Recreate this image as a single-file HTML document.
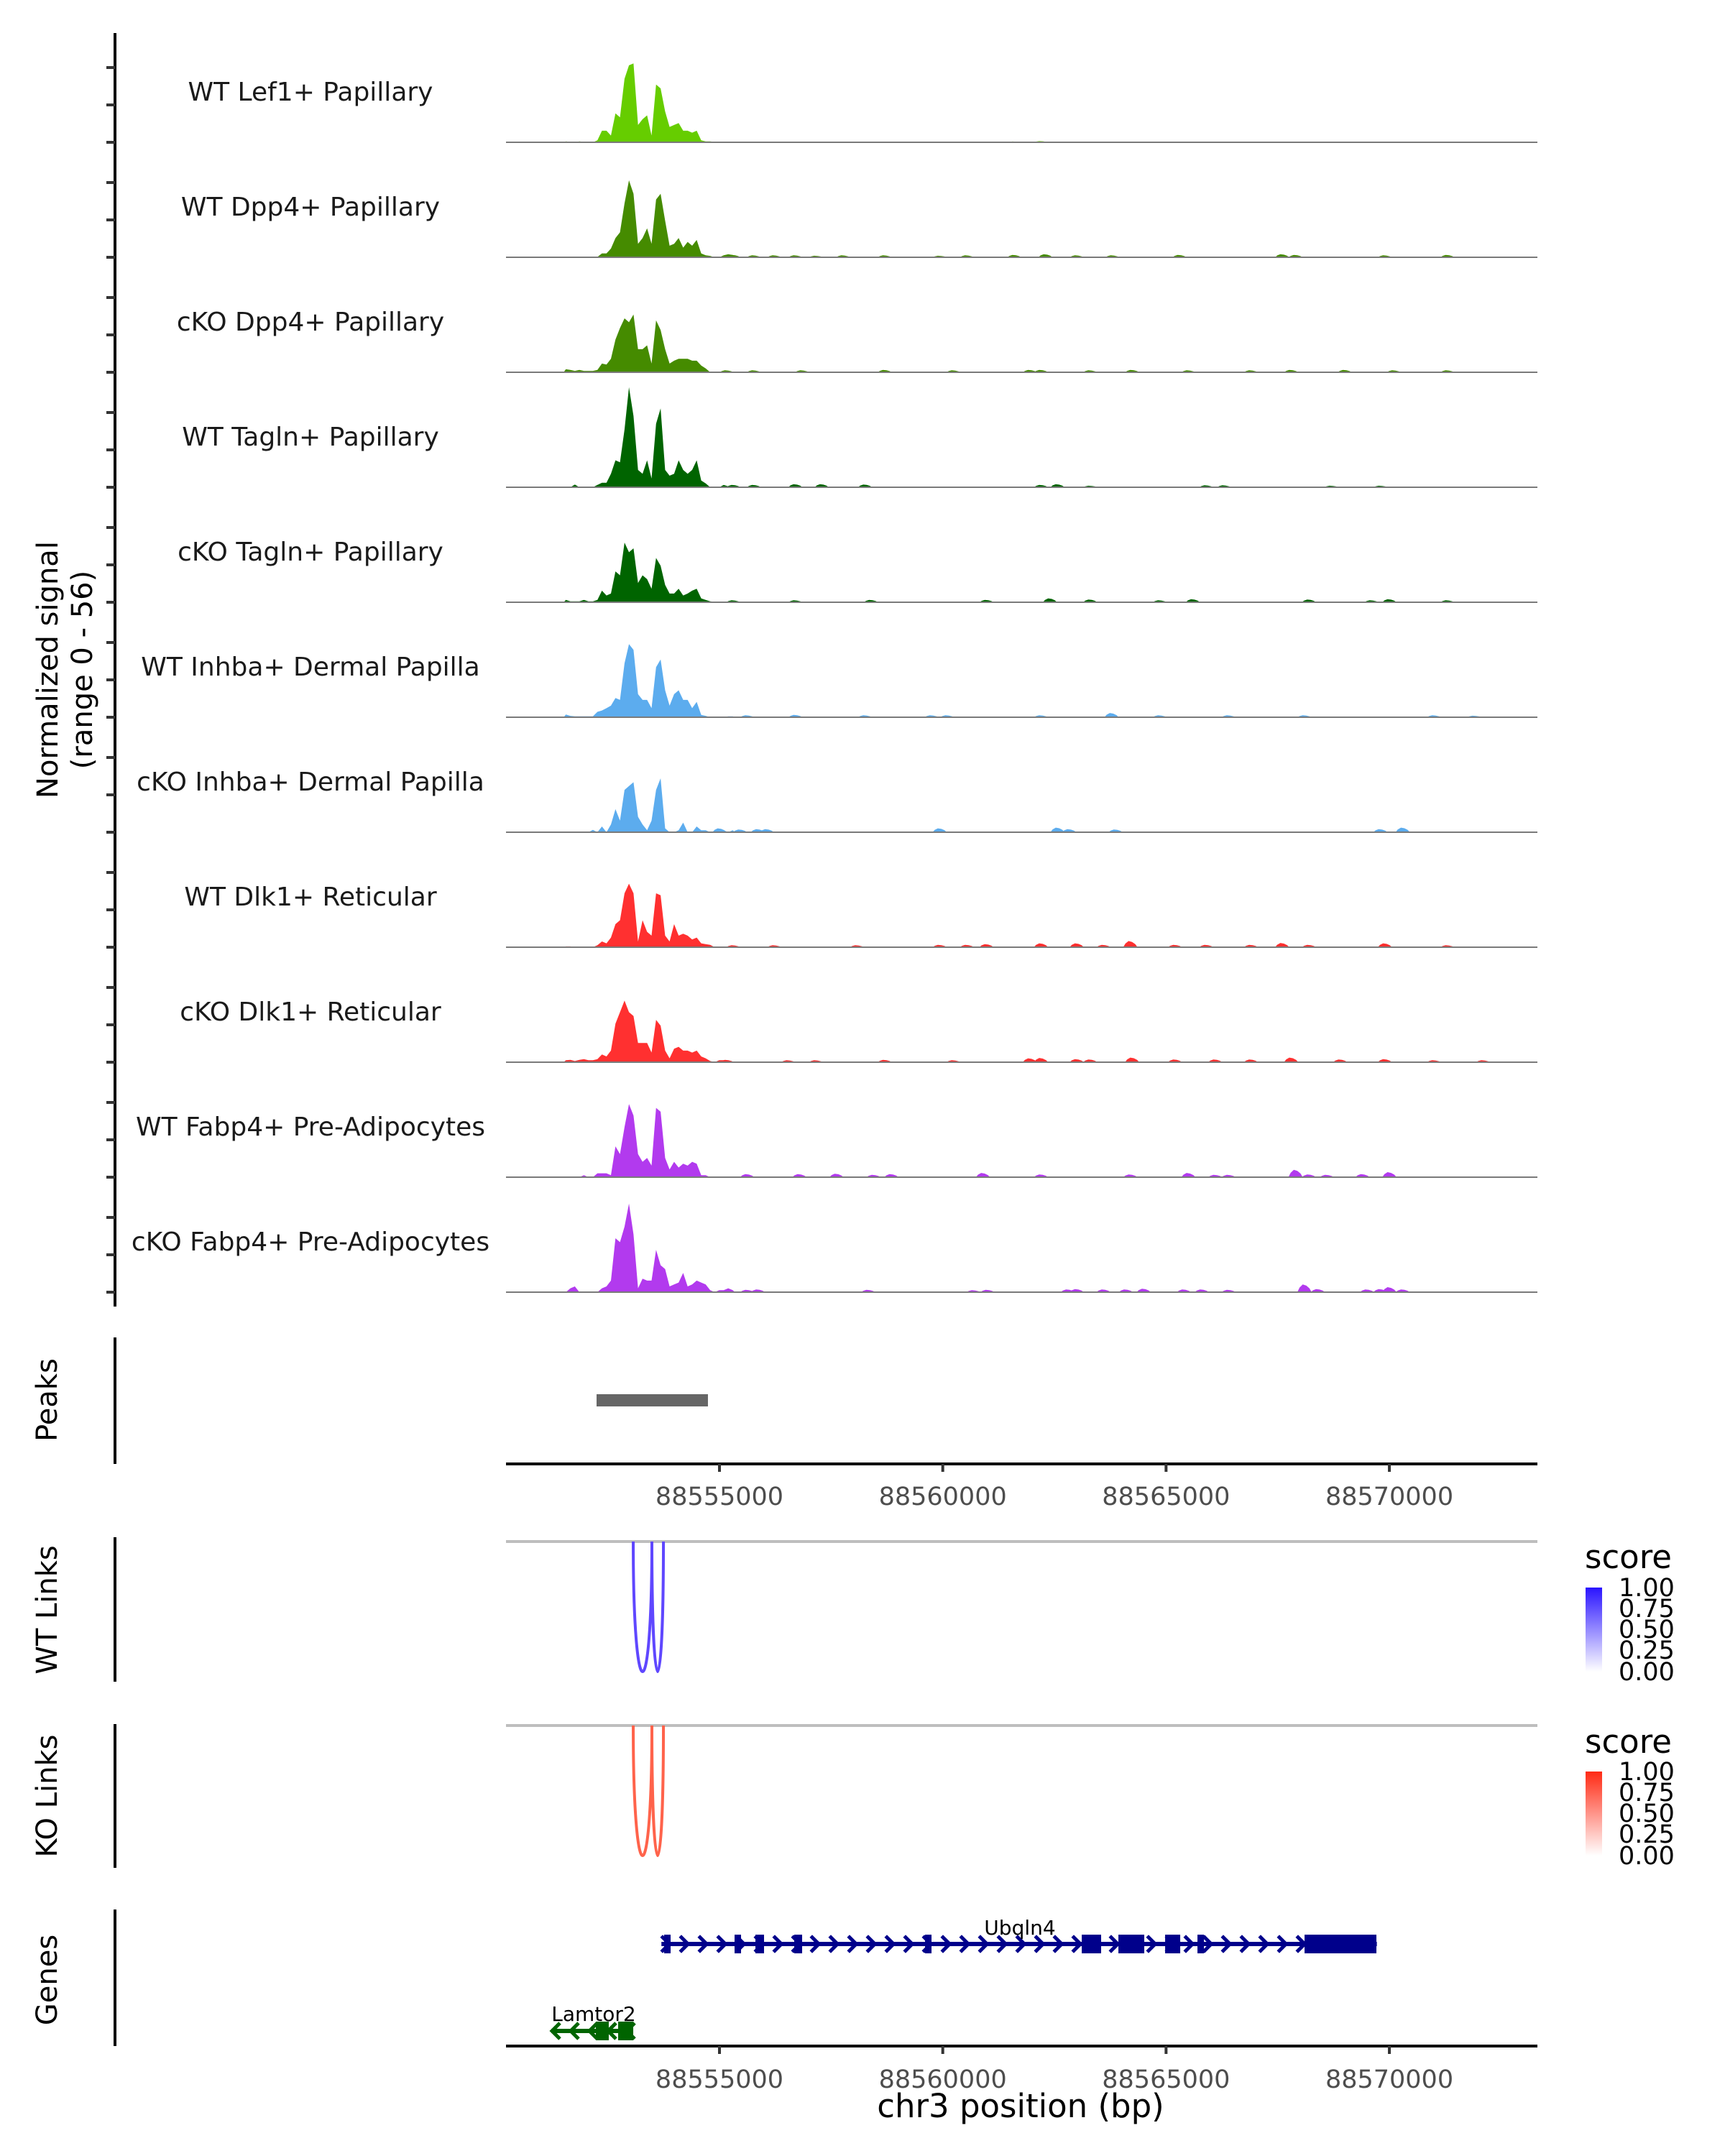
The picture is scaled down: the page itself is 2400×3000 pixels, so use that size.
<!DOCTYPE html>
<html><head><meta charset="utf-8"><style>
html,body{margin:0;padding:0;background:#fff;}
svg{display:block;font-family:"DejaVu Sans","Liberation Sans",sans-serif;}
</style></head><body>
<svg id="chart" width="2400" height="3000" viewBox="0 0 2400 3000" xmlns="http://www.w3.org/2000/svg">
<defs>
<linearGradient id="gBlue" x1="0" y1="1" x2="0" y2="0"><stop offset="0" stop-color="#ffffff"/><stop offset="1" stop-color="#2a14ff"/></linearGradient>
<linearGradient id="gRed" x1="0" y1="1" x2="0" y2="0"><stop offset="0" stop-color="#ffffff"/><stop offset="1" stop-color="#ff2a14"/></linearGradient>
<clipPath id="plotClip"><rect x="704" y="0" width="1435" height="3000"/></clipPath>
</defs>
<g id="tracks" clip-path="url(#plotClip)"></g>
<g id="labels" font-size="36" fill="#1a1a1a" text-anchor="middle">
<text x="432" y="140">WT Lef1+ Papillary</text>
<text x="432" y="300">WT Dpp4+ Papillary</text>
<text x="432" y="460">cKO Dpp4+ Papillary</text>
<text x="432" y="620">WT Tagln+ Papillary</text>
<text x="432" y="780">cKO Tagln+ Papillary</text>
<text x="432" y="940">WT Inhba+ Dermal Papilla</text>
<text x="432" y="1100">cKO Inhba+ Dermal Papilla</text>
<text x="432" y="1260">WT Dlk1+ Reticular</text>
<text x="432" y="1420">cKO Dlk1+ Reticular</text>
<text x="432" y="1580">WT Fabp4+ Pre-Adipocytes</text>
<text x="432" y="1740">cKO Fabp4+ Pre-Adipocytes</text>
</g>
<g font-size="40" fill="#000" text-anchor="middle">
<text transform="translate(80,932) rotate(-90)"><tspan x="0" y="0">Normalized signal</tspan><tspan x="0" y="48">(range 0 - 56)</tspan></text>
<text transform="translate(79,1948) rotate(-90)">Peaks</text>
<text transform="translate(79,2240) rotate(-90)">WT Links</text>
<text transform="translate(79,2499) rotate(-90)">KO Links</text>
<text transform="translate(79,2755) rotate(-90)">Genes</text>
</g>
<g stroke="#000" stroke-width="4">
<line x1="160" y1="46" x2="160" y2="1818"/>
<line x1="160" y1="1861" x2="160" y2="2037"/>
<line x1="160" y1="2139" x2="160" y2="2340"/>
<line x1="160" y1="2399" x2="160" y2="2599"/>
<line x1="160" y1="2657" x2="160" y2="2847"/>
</g>
<g id="yticks"></g>
<g id="xaxes"></g>
<g id="peaks"></g>
<g id="links"></g>
<g id="genes"></g>
<text x="1420" y="2946" font-size="45" text-anchor="middle" fill="#000">chr3 position (bp)</text>
<g>
<text x="2205" y="2182" font-size="45">score</text>
<rect x="2206" y="2209" width="23" height="117" fill="url(#gBlue)"/>
<g font-size="35" fill="#000"><text x="2252" y="2221">1.00</text><text x="2252" y="2250">0.75</text><text x="2252" y="2279">0.50</text><text x="2252" y="2308">0.25</text><text x="2252" y="2338">0.00</text></g>
</g>
<g>
<text x="2205" y="2439" font-size="45">score</text>
<rect x="2206" y="2465" width="23" height="117" fill="url(#gRed)"/>
<g font-size="35" fill="#000"><text x="2252" y="2477">1.00</text><text x="2252" y="2506">0.75</text><text x="2252" y="2535">0.50</text><text x="2252" y="2564">0.25</text><text x="2252" y="2594">0.00</text></g>
</g>
</svg>
<script>
// ---- data ----
const domainStart = 88550220;
const domainEnd = 88573315;
const xTicks = [88555000, 88560000, 88565000, 88570000];
const xTickLabels = ["88555000", "88560000", "88565000", "88570000"];
const signalMax = 56;
const binStart = 88551510;
const binWidth = 101;
const trackColors = ['#66CD00','#458B00','#458B00','#006400','#006400','#5CACEE','#5CACEE','#FF3030','#FF3030','#B23AEE','#B23AEE'];
const t1 = [0.5,0.2,0,0.5,0.2,0,0,1,6,6,3.5,15,13,33,40,41,9,12,14,3.5,30,28,16,8,9,10,6,6,5,6,1,0.5,0.5,0.2,0.2,0.2,0.2,0.2];
const t2 = [0.2,0.2,0.2,0.2,0.2,0,0,0.2,2,2,4.5,10,13,28,40,33,7,10,15,7,30,33,19,6,7,10,5,8,6,9,2,1,0.7,0,0,1,1.6,1.2];
const t3 = [1.6,1.2,0.7,1.2,0.7,0.7,0.7,1.2,4.5,4,7,17,23,28,26,30,12,12,14,4.5,27,22,12,4.5,6,7,7,7,6,6,3.5,2,0,0,0,0,0,0];
const t4 = [0,0,1.4,0,0,0,0,1.2,2.3,2.3,7,14,13,30,52,37,9,7,14,4.5,33,41,9,6,7,14,9,7,9,14,3.5,2,0,0,0,1.2,0.5,0.7];
const t5 = [1.2,0.5,0.5,0.5,1.2,0.5,0.5,1.2,6,3.5,4.5,16,14,31,26,28,10,14,12,7,23,19,9,4.5,4.5,7,3.5,4.5,6,7,2,1.2,0.5,0.2,0,0,0,0];
const t6 = [1.4,0.7,0.5,0.5,0.5,0.5,0.5,2.8,3.5,4.7,6,10,9,28,38,35,12,9,9,4.7,26,30,14,6,12,14,9,9,4.7,8,1.2,0.7,0,0,0,0,0.5,0.5];
const t7 = [0,0,0,0,0,0,1.2,0,3,0,4,12,6,22,24,26,8,4,1,6,22,28,2,0,0,1,5,0,0,3,1,1,0,0,0,1,0,1];
const t8 = [0.4,0.4,0,0,0,0,0,1,3,2,5,12,14,28,33,28,3,14,8,6,28,27,6,3,12,6,7,6,4,5,2,1.6,1.2,0,0,0,0,0.2];
const t9 = [1,1.2,0.6,1.2,1.6,1,1,1.6,4,3,6,20,26,32,26,24,10,10,10,5,22,19,6,2,7,8,6,6,5,6,3,2,0.6,0,1,1,0.4,0];
const t10 = [0,0,0,0,1,0,0,2,2,2,1,16,12,26,38,32,12,8,10,6,36,34,10,4,8,5,7,6,8,7,1,1,0,0,0,0,0,0];
const t11 = [0,2,3,0,0,0,0,0,2,3,6,28,26,34,46,30,2,7,6,6,22,14,12,3,4,5,10,3,4,6,5,4,1,0,1,1,2,1];
// small bumps: offsets in kb from 88555000, and heights
const b1Kb = [6.6,7.2,9.9,11.9,15.0]; const b1H = [0.4,0.6,0.3,0.3,0.3];
const b2Kb = [0.31,0.77,1.23,1.7,2.16,2.77,3.7,4.93,5.54,6.6,7.3,8.0,8.8,10.3,12.6,12.9,14.9,16.3]; const b2H = [1.2,1,1,1,0.8,1,1,0.8,1,1.2,1.6,1,1,1.2,1.6,1.2,1,1.2];
const b3Kb = [0.16,0.77,1.85,3.7,5.24,6.95,7.2,8.3,9.24,10.5,11.9,12.8,14.0,15.1,16.3]; const b3H = [1,1,1,1.2,1,1.2,1.2,1,1.2,1,1,1.2,1.2,1,1];
const b4Kb = [0.31,0.77,1.7,2.29,3.26,7.2,7.57,8.3,10.9,11.3,13.7,14.8]; const b4H = [1.2,1.2,1.6,1.6,1.4,1.2,1.6,0.8,1,1,0.8,0.8];
const b5Kb = [0.31,1.7,3.39,5.98,7.4,8.3,9.86,10.6,13.2,14.6,15.0,16.3]; const b5H = [1,1,1.2,1.2,2,1.4,1,1.6,1.4,1,1.6,1];
const b6Kb = [0.62,1.7,3.26,4.75,5.1,7.2,8.78,9.86,11.4,13.1,16.0,16.9]; const b6H = [1,1.2,1,1,1,1,2.2,1,1,1,1,0.8];
const b7Kb = [0,0.46,0.86,1.06,4.93,7.57,7.83,8.87,14.8,15.3]; const b7H = [2,1.4,1.6,1.6,2,2.4,1.6,1.4,1.6,2.4];
const b8Kb = [0.31,1.23,3.08,4.93,5.54,5.98,7.2,8.0,8.6,9.2,10.2,10.9,11.9,12.6,13.2,14.9,16.3]; const b8H = [1,1,1,1.2,1.2,1.6,2,2,1.2,3.2,1.2,1.2,1.2,2.2,1.2,2,1];
const b9Kb = [0.16,1.54,2.16,3.7,5.24,6.95,7.2,8.0,8.3,9.24,10.2,11.1,11.9,12.8,13.9,14.9,16.0,17.1]; const b9H = [1.2,1,1,1.2,1,2,2.2,1.6,1.4,2.4,1.4,1.4,1.4,2.4,1.4,1.6,1,1];
const b10Kb = [0.62,1.79,2.62,3.45,3.85,5.9,7.2,9.2,10.5,11.1,11.4,12.9,13.2,13.6,14.4,15.0]; const b10H = [1.6,1.6,1.8,1.2,1.6,2.2,1.4,1.4,2.2,1.2,1.2,3.8,1.4,1.2,1.6,2.6];
const b11Kb = [0.62,0.86,3.33,5.69,6.0,7.8,8.0,8.6,9.1,9.5,10.4,10.8,11.4,13.1,13.4,14.5,14.8,15.0,15.3]; const b11H = [1.2,1.4,1.2,1,1.2,1.4,1.6,1.4,1.4,1.8,1.4,1.4,1.2,4,1.6,1.4,1.6,2.6,1.4];
const peakStarts = [88552248];
const peakEnds = [88554742];
const wtLinkStarts = [88553069, 88553487];
const wtLinkEnds = [88553487, 88553745];
const wtLinkScores = [0.82, 0.82];
const koLinkStarts = [88553069, 88553487];
const koLinkEnds = [88553487, 88553745];
const koLinkScores = [0.8, 0.8];
const geneNames = ['Ubqln4', 'Lamtor2'];
const geneStarts = [88553700, 88551234];
const geneEnds = [88569720, 88553069];
const geneStrands = [1, -1];
const exonStartsUbqln4 = [88553761,88555338,88555805,88556674,88559603,88563112,88563933,88564979,88565703,88568101];
const exonEndsUbqln4 = [88553906,88555483,88555998,88556851,88559748,88563546,88564512,88565317,88565848,88569710];
const exonStartsLamtor2 = [88552232, 88552731];
const exonEndsLamtor2 = [88552521, 88553069];

// ---- geometry ----
const NS = 'http://www.w3.org/2000/svg';
const plotLeft = 704, plotRight = 2139;
const X = bp => plotLeft + (bp - domainStart) / (domainEnd - domainStart) * (plotRight - plotLeft);
const trackTop0 = 198, trackStep = 160, trackScale = 150;
const Y = (k, v) => trackTop0 + trackStep * k - v / signalMax * trackScale;
function mk(tag, attrs, parent) { const e = document.createElementNS(NS, tag); for (const a in attrs) e.setAttribute(a, attrs[a]); parent.appendChild(e); return e; }

const tracks = [t1,t2,t3,t4,t5,t6,t7,t8,t9,t10,t11];
const bumpsKb = [b1Kb,b2Kb,b3Kb,b4Kb,b5Kb,b6Kb,b7Kb,b8Kb,b9Kb,b10Kb,b11Kb];
const bumpsH = [b1H,b2H,b3H,b4H,b5H,b6H,b7H,b8H,b9H,b10H,b11H];
const gT = document.getElementById('tracks');
const gY = document.getElementById('yticks');
tracks.forEach((vals, k) => {
  const g = mk('g', {}, gT);
  
  
  const base = Y(k, 0);
  let d = 'M' + X(binStart).toFixed(1) + ',' + base;
  vals.forEach((v, i) => { d += ' L' + X(binStart + binWidth * (i + 0.5)).toFixed(1) + ',' + Y(k, v).toFixed(1); });
  d += ' L' + X(binStart + binWidth * vals.length).toFixed(1) + ',' + base + ' Z';
  const p = mk('path', { d: d, fill: trackColors[k] }, g);
  
  
  bumpsKb[k].forEach((kb, j) => {
    const c = 88555000 + kb * 1000;
    const h = bumpsH[k][j];
    const bd = 'M' + X(c - 160).toFixed(1) + ',' + base +
      ' L' + X(c - 110).toFixed(1) + ',' + Y(k, h * 0.6).toFixed(1) +
      ' L' + X(c - 40).toFixed(1) + ',' + Y(k, h).toFixed(1) +
      ' L' + X(c + 40).toFixed(1) + ',' + Y(k, h * 0.85).toFixed(1) +
      ' L' + X(c + 110).toFixed(1) + ',' + Y(k, h * 0.5).toFixed(1) +
      ' L' + X(c + 160).toFixed(1) + ',' + base + ' Z';
    const bp = mk('path', { d: bd, fill: trackColors[k] }, g);
    
    
  });
  const bl = mk('line', { x1: plotLeft, x2: plotRight, y1: base, y2: base, stroke: '#7a7a7a', 'stroke-width': 2 }, g);
  
  
  [0, 52, 104].forEach(off => {
    const t = mk('line', { x1: 148, x2: 160, y1: base - off, y2: base - off, stroke: '#333', 'stroke-width': 4 }, gY);
    
    
  });
});

// x axes
const gX = document.getElementById('xaxes');
[[2037, 2082], [2847, 2893]].forEach(([ay, ly], ai) => {
  const al = mk('line', { x1: plotLeft, x2: plotRight, y1: ay, y2: ay, stroke: '#000', 'stroke-width': 4 }, gX);
  
  
  xTicks.forEach((t, i) => {
    const tl = mk('line', { x1: X(t), x2: X(t), y1: ay, y2: ay + 11, stroke: '#333', 'stroke-width': 4 }, gX);
    
    
    const tx = mk('text', { x: X(t), y: ly + 12, 'font-size': 35, fill: '#4d4d4d', 'text-anchor': 'middle' }, gX);
    
    
    tx.textContent = xTickLabels[i];
  });
});

// peaks
const gP = document.getElementById('peaks');
peakStarts.forEach((s, i) => {
  const r = mk('rect', { x: X(s), y: 1940, width: X(peakEnds[i]) - X(s), height: 17, fill: '#666666' }, gP);
  
  
});

// links
const gL = document.getElementById('links');
function mix(c, s) { return 'rgb(' + c.map(v => Math.round(255 + (v - 255) * s)).join(',') + ')'; }
function drawLinks(starts, ends, scores, top, bottom, rgb, name) {
  const gl = mk('line', { x1: plotLeft, x2: plotRight, y1: top, y2: top, stroke: '#bebebe', 'stroke-width': 4 }, gL);
  
  
  starts.forEach((s, i) => {
    const x1 = X(s), x2 = X(ends[i]);
    const cy = (bottom - 0.25 * top) / 0.75;
    const p = mk('path', { d: 'M' + x1 + ',' + top + ' C' + x1 + ',' + cy + ' ' + x2 + ',' + cy + ' ' + x2 + ',' + top, fill: 'none', stroke: mix(rgb, scores[i]), 'stroke-width': 4 }, gL);
    
    
  });
}
drawLinks(wtLinkStarts, wtLinkEnds, wtLinkScores, 2145, 2326, [60, 30, 255], 'wt-link');
drawLinks(koLinkStarts, koLinkEnds, koLinkScores, 2401, 2582, [255, 60, 30], 'ko-link');

// genes
const gG = document.getElementById('genes');
const geneY = [2705, 2826];
const geneColors = ['#00008B', '#006400'];
const geneLabelY = [2692, 2812];
const exonS = [exonStartsUbqln4, exonStartsLamtor2];
const exonE = [exonEndsUbqln4, exonEndsLamtor2];
geneNames.forEach((nm, gi) => {
  const g = mk('g', {}, gG);
  
  
  const y = geneY[gi], col = geneColors[gi];
  const xs = X(geneStarts[gi]), xe = X(geneEnds[gi]);
  mk('line', { x1: xs, x2: xe, y1: y, y2: y, stroke: col, 'stroke-width': 6 }, g);
  const dir = geneStrands[gi];
  for (let x = xs + 6; x < xe - 4; x += 26) {
    const c = mk('path', { d: dir > 0 ? ('M' + (x - 6) + ',' + (y - 11) + ' L' + (x + 5) + ',' + y + ' L' + (x - 6) + ',' + (y + 11)) : ('M' + (x + 6) + ',' + (y - 11) + ' L' + (x - 5) + ',' + y + ' L' + (x + 6) + ',' + (y + 11)), fill: 'none', stroke: col, 'stroke-width': 5 }, g);
    
    
  }
  exonS[gi].forEach((s, i) => {
    const r = mk('rect', { x: X(s), y: y - 13, width: Math.max(8, X(exonE[gi][i]) - X(s)), height: 26, fill: col }, g);
    
    
  });
  const lbl = mk('text', { x: gi === 0 ? 1419 : 826, y: geneLabelY[gi], 'font-size': 28, 'text-anchor': 'middle', fill: '#000' }, g);
  
  
  lbl.textContent = nm;
});
</script>
</body></html>
